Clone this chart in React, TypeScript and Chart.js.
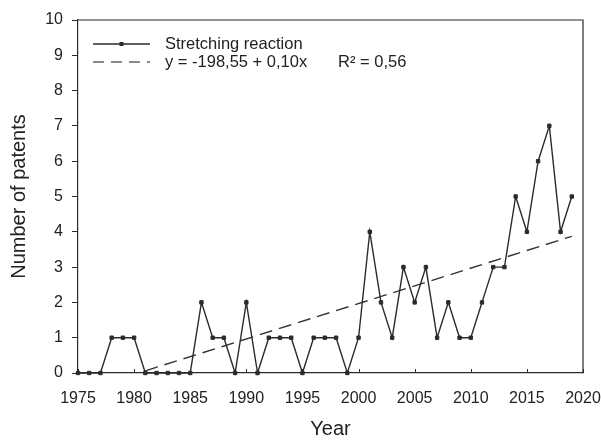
import React, { useEffect, useRef } from "react";
import { Chart, registerables } from "chart.js";

Chart.register(...registerables);

const years: number[] = [
  1975, 1976, 1977, 1978, 1979, 1980, 1981, 1982, 1983, 1984, 1985, 1986, 1987, 1988, 1989,
  1990, 1991, 1992, 1993, 1994, 1995, 1996, 1997, 1998, 1999, 2000, 2001, 2002, 2003, 2004,
  2005, 2006, 2007, 2008, 2009, 2010, 2011, 2012, 2013, 2014, 2015, 2016, 2017, 2018, 2019,
];
const patents: number[] = [
  0, 0, 0, 1, 1, 1, 0, 0, 0, 0, 0, 2, 1, 1, 0,
  2, 0, 1, 1, 1, 0, 1, 1, 1, 0, 1, 4, 2, 1, 3,
  2, 3, 1, 2, 1, 1, 2, 3, 3, 5, 4, 6, 7, 4, 5,
];
const trendRange: number[] = [1981, 2019];
const seriesLabel = "Stretching reaction";
const trendLabel = "y = -198,55 + 0,10x";
const r2Label = "R\u00B2 = 0,56";
const xTicks: number[] = [1975, 1980, 1985, 1990, 1995, 2000, 2005, 2010, 2015, 2020];
const yTicks: number[] = [0, 1, 2, 3, 4, 5, 6, 7, 8, 9, 10];

function regression(xs: number[], ys: number[]) {
  const n = xs.length;
  const mx = xs.reduce((a, b) => a + b, 0) / n;
  const my = ys.reduce((a, b) => a + b, 0) / n;
  let sxy = 0;
  let sxx = 0;
  for (let i = 0; i < n; i++) {
    sxy += (xs[i] - mx) * (ys[i] - my);
    sxx += (xs[i] - mx) * (xs[i] - mx);
  }
  const slope = sxy / sxx;
  return { slope, intercept: my - slope * mx };
}

const FONT = "'Liberation Sans', Arial, sans-serif";
const INK = "#2b2b2b";

export default function App() {
  const ref = useRef<HTMLCanvasElement | null>(null);

  useEffect(() => {
    document.body.style.margin = "0";
    const canvas = ref.current;
    if (!canvas) return;
    const { slope, intercept } = regression(years, patents);
    const trend = trendRange.map((x) => ({ x, y: intercept + slope * x }));

    const framePlugin = {
      id: "frame",
      afterDatasetsDraw(chart: any) {
        const { ctx, chartArea } = chart;
        const xs = chart.scales.x;
        ctx.save();
        ctx.strokeStyle = INK;
        ctx.lineWidth = 1.2;
        ctx.beginPath();
        ctx.moveTo(chartArea.left, chartArea.top);
        ctx.lineTo(chartArea.right, chartArea.top);
        ctx.lineTo(chartArea.right, chartArea.bottom);
        ctx.stroke();

        // inward x ticks
        ctx.lineWidth = 1;
        ctx.beginPath();
        xTicks.forEach((v) => {
          const px = Math.round(xs.getPixelForValue(v)) + 0.5;
          ctx.moveTo(px, chartArea.bottom);
          ctx.lineTo(px, chartArea.bottom - 4);
        });
        ctx.stroke();

        // legend
        const x0 = chartArea.left + 15;
        const x1 = chartArea.left + 72;
        const tx = chartArea.left + 87;
        const r1 = chartArea.top + 24;
        const r2 = chartArea.top + 42;
        ctx.lineWidth = 1.3;
        ctx.beginPath();
        ctx.moveTo(x0, r1);
        ctx.lineTo(x1, r1);
        ctx.stroke();
        ctx.fillStyle = INK;
        ctx.fillRect((x0 + x1) / 2 - 2, r1 - 2, 4, 4);
        ctx.strokeStyle = "#666";
        ctx.setLineDash([11, 7]);
        ctx.beginPath();
        ctx.moveTo(x0, r2);
        ctx.lineTo(x1, r2);
        ctx.stroke();
        ctx.setLineDash([]);
        ctx.font = `16.5px ${FONT}`;
        ctx.fillStyle = "#222";
        ctx.textBaseline = "middle";
        ctx.textAlign = "left";
        ctx.fillText(seriesLabel, tx, r1);
        ctx.fillText(trendLabel, tx, r2);
        ctx.fillText(r2Label, tx + 173, r2);
        ctx.restore();
      },
    };

    const chart = new Chart(canvas, {
      type: "line",
      data: {
        datasets: [
          {
            label: seriesLabel,
            data: years.map((x, i) => ({ x, y: patents[i] })),
            borderColor: INK,
            borderWidth: 1.4,
            pointStyle: "rect",
            pointRadius: 2.4,
            pointBackgroundColor: INK,
            pointBorderColor: INK,
            pointBorderWidth: 1,
            tension: 0,
            clip: false,
          },
          {
            label: trendLabel,
            data: trend,
            borderColor: "#333",
            borderWidth: 1.4,
            borderDash: [13, 7],
            pointRadius: 0,
            tension: 0,
            clip: false,
          },
        ],
      },
      plugins: [framePlugin],
      options: {
        animation: false,
        responsive: false,
        maintainAspectRatio: false,
        layout: { padding: { top: 20, right: 18, left: 0, bottom: 0 } },
        plugins: {
          legend: { display: false },
          tooltip: { enabled: false },
        },
        scales: {
          x: {
            type: "linear",
            min: 1975,
            max: 2020,
            afterBuildTicks: (s: any) => {
              s.ticks = xTicks.map((v) => ({ value: v }));
            },
            afterFit: (s: any) => {
              s.height = 68;
              s.paddingLeft = 0;
              s.paddingRight = 0;
            },
            ticks: {
              color: "#222",
              font: { family: FONT, size: 16 },
              padding: 16,
              maxRotation: 0,
              callback: (v: any) => String(v),
            },
            grid: {
              drawOnChartArea: false,
              drawTicks: false,
              color: INK,
            },
            border: { color: INK, width: 1.2 },
            title: {
              display: true,
              text: "Year",
              color: "#222",
              font: { family: FONT, size: 20 },
              padding: { top: 0, bottom: 0 },
            },
          },
          y: {
            type: "linear",
            min: 0,
            max: 10,
            afterBuildTicks: (s: any) => {
              s.ticks = yTicks.map((v) => ({ value: v }));
            },
            afterFit: (s: any) => {
              s.width = 78;
              s.paddingTop = 0;
              s.paddingBottom = 0;
            },
            ticks: {
              color: "#222",
              font: { family: FONT, size: 16 },
              padding: 9,
              callback: (v: any) => String(v),
            },
            grid: {
              drawOnChartArea: false,
              drawTicks: true,
              tickLength: 6,
              color: INK,
            },
            border: { color: INK, width: 1.2 },
            title: {
              display: true,
              text: "Number of patents",
              color: "#222",
              font: { family: FONT, size: 20 },
              padding: { top: 7, bottom: 0 },
            },
          },
        },
      },
    });
    return () => chart.destroy();
  }, []);

  return (
    <div style={{ position: "fixed", left: 0, top: 0, width: 601, height: 441, background: "#fff" }}>
      <canvas ref={ref} width={601} height={441} style={{ width: 601, height: 441 }} />
    </div>
  );
}
